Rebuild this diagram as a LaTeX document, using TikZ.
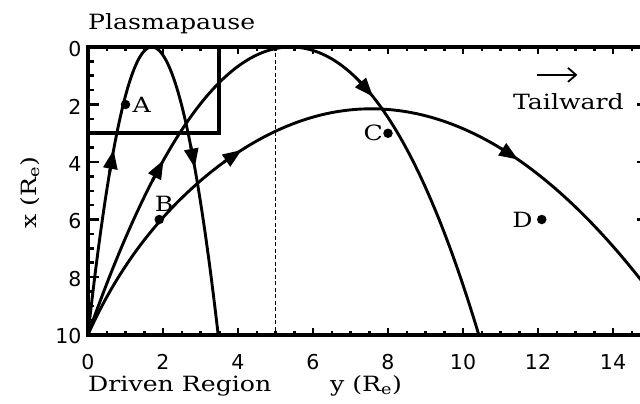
\documentclass[tikz,border=0pt]{standalone}
\usepackage{fontspec}
\usetikzlibrary{arrows.meta}
\newfontfamily\plotfont[FakeStretch=1.2]{DejaVu Serif}
\newfontfamily\numfont{DejaVu Sans}

\begin{document}
\begin{tikzpicture}[x=37.5pt, y=-28.75pt,
    axis/.style={line width=4pt},
    ticks/.style={line width=2.5pt},
    orbit/.style={line width=2.9pt, line join=round},
    headtip/.style={-{Triangle[length=19pt,width=14pt]}},
    dot/.style={circle, fill, inner sep=0pt, minimum size=9.5pt},
    lbl/.style={font=\fontsize{21}{21}\plotfont, inner sep=0pt},
    num/.style={font=\fontsize{20.5}{20.5}\numfont, inner sep=0pt},
    declare function={
        fa(\t)=(\t<0)*3.46*\t*\t+(\t>=0)*3.19*\t*\t;
        fb(\t)=(\t<0)*0.343*\t*\t+(\t>=0)*(0.326*\t*\t+0.01416*\t*\t*\t);
        fc(\t)=2.15+(\t<0)*(0.12*\t*\t+1.01*(\t*\t/57)^4)+(\t>=0)*0.115*\t*\t;
    }]
    \useasboundingbox (-2.3467,-1.6348) rectangle (14.72,12.4174);
    \clip (-2.3467,-1.6348) rectangle (14.72,12.4174);

    % plasmapause box and the y = 5 line
    \draw[line width=1.2pt, dash pattern=on 4pt off 2.5pt] (5,0) -- (5,10);
    \draw[line width=4pt] (0,0) rectangle (3.5,3);

    % trajectories: function / apex / start / tip 1 / chord 1 / tip 2 / chord 2 / end
    \foreach \f/\c/\a/\p/\dp/\q/\dq/\b in {fa/1.7/-1.7/-1.017/0.11/1.147/0.11/1.77,
                                           fb/5.4/-5.4/-3.385/0.3/2.2/0.36/5.02,
                                           fc/7.55/-7.55/-3.45/0.48/3.92/0.47/7.45} {
        \pgfmathsetmacro\ps{\p-\dp}
        \pgfmathsetmacro\qs{\q-\dq}
        \draw[orbit] plot[samples=160, domain=\a:\b] ({\c+\x},{\f(\x)});
        \draw[orbit, headtip] plot[samples=2, domain=\ps:\p] ({\c+\x},{\f(\x)});
        \draw[orbit, headtip] plot[samples=2, domain=\qs:\q] ({\c+\x},{\f(\x)});
    }

    % frame and ticks
    \draw[axis] (0,0) rectangle (14.93,10);
    \foreach \v in {0,0.5,...,10} {
        \draw[ticks] (0,\v) -- ++(5.5pt,0pt);
        \draw[ticks] (14.93,\v) -- ++(-5.5pt,0pt);
    }
    \foreach \v in {0,2,...,10} {
        \draw[ticks] (0,\v) -- ++(11pt,0pt);
        \draw[ticks] (14.93,\v) -- ++(-11pt,0pt);
        \node[num, anchor=east] (xl\v) at (-0.17,\v) [yshift=-2pt] {\v};
    }
    \foreach \v in {0,0.5,...,14.5} {
        \draw[ticks] (\v,10) -- ++(0pt,4pt);
        \draw[ticks] (\v,0) -- ++(0pt,-4pt);
    }
    \foreach \v in {0,2,...,14} {
        \draw[ticks] (\v,10) -- ++(0pt,7pt);
        \draw[ticks] (\v,0) -- ++(0pt,-7pt);
        \node[num] (yl\v) at (\v,10.96) {\v};
    }

    % marked points
    \node[dot, label={[lbl, label distance=2pt]right:A}] (A) at (1,2) {};
    \node[dot, label={[lbl, label distance=3pt, xshift=5pt]above:B}] (B) at (1.9,6) {};
    \node[dot, label={[lbl, label distance=0pt]left:C}] (C) at (8,3) {};
    \node[dot, label={[lbl, label distance=4pt]left:D}] (D) at (12.1,6) {};

    % titles
    \node[lbl, anchor=base west] (plasma) at (0,-0.616) {Plasmapause};
    \node[lbl, anchor=base west] (driven) at (0,11.97) {Driven Region};
    \node[lbl, anchor=base west] (ytitle) at (6.45,11.97) {y (R\textsubscript{e})};
    \node[lbl, rotate=90] (xtitle) at (-1.55,5.08) {x (R\textsubscript{e})};
    \node[lbl, anchor=base west] (tail) at (11.33,2.19) {Tailward};
    \coordinate (tailfrom) at (11.97,0.97);
    \coordinate (tailto) at (13.05,0.97);
    \draw[line width=1.8pt, -{Straight Barb[length=8pt,width=14pt]}] (tailfrom) -- (tailto);
\end{tikzpicture}
\end{document}
